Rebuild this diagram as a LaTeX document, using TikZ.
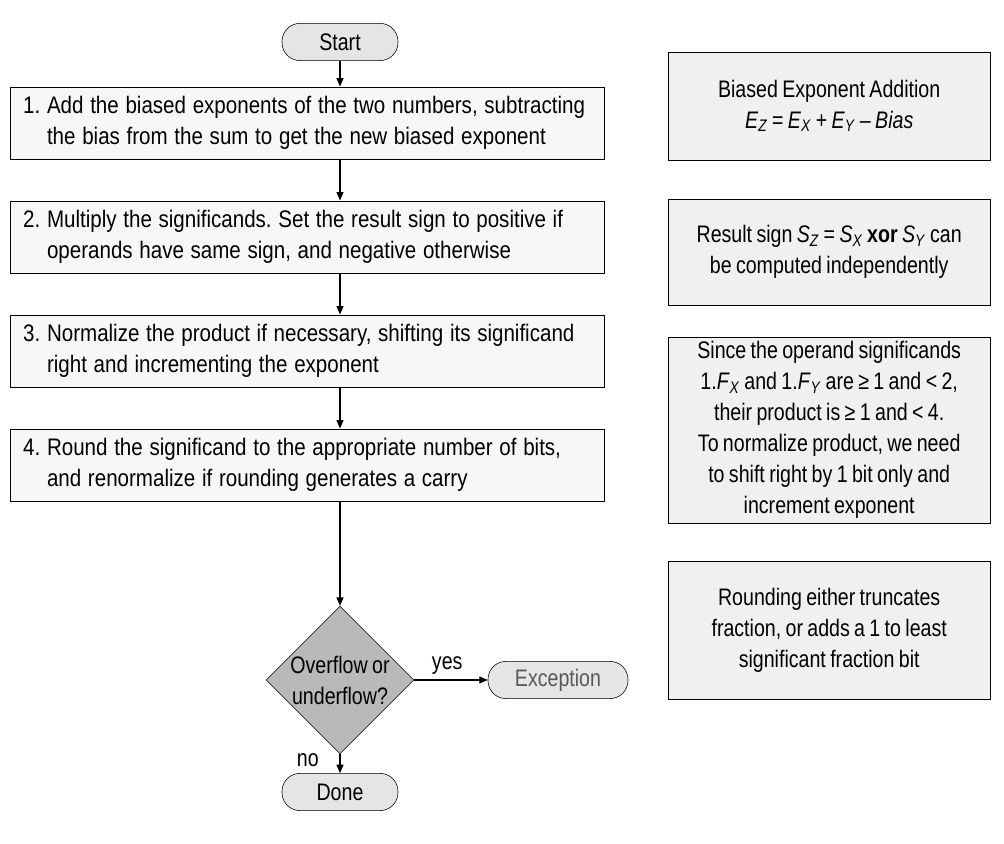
\documentclass[tikz,border=0pt]{standalone}
\usepackage{fontspec}
\setmainfont{Liberation Sans}[FakeStretch=0.82, WordSpace=0.8]
\newfontfamily\stepFont{Liberation Sans}[FakeStretch=0.86]
\usetikzlibrary{shapes.geometric,arrows.meta}
\frenchspacing
\newcommand\boxW{14.85}
\newcommand\sideW{8.05}
\tikzset{
  stepBox/.style={draw, fill=gray!6, minimum width=\boxW cm, minimum height=1.8cm, align=left, text width=14.2cm,
    font=\fontsize{17}{22}\stepFont, execute at begin node={\frenchspacing\spaceskip=0.28em plus 0.05em\relax}},
  sideBox/.style={draw, fill=gray!12, minimum width=\sideW cm, align=center},
  pillBox/.style={draw, fill=gray!20, rounded corners=0.45cm, minimum width=2.9cm, minimum height=0.93cm},
  flowArrow/.style={-{Triangle[length=6pt,width=5pt]}, thick}
}
\begin{document}
\begin{tikzpicture}[font=\fontsize{17}{22}\selectfont]
  \useasboundingbox (0,0) rectangle (25.1,21.1);
  % main flow
  \node[pillBox] (start) at (8.5,20.05) {Start};
  \node[stepBox] (stepA) at (7.68,18.03) {1.\ Add the biased exponents of the two numbers, subtracting\\ \phantom{1.\ }the bias from the sum to get the new biased exponent};
  \node[stepBox] (stepB) at (7.68,15.18) {2.\ Multiply the significands. Set the result sign to positive if\\ \phantom{2.\ }operands have same sign, and negative otherwise};
  \node[stepBox] (stepC) at (7.68,12.33) {3.\ Normalize the product if necessary, shifting its significand\\ \phantom{3.\ }right and incrementing the exponent};
  \node[stepBox] (stepD) at (7.68,9.48) {4.\ Round the significand to the appropriate number of bits,\\ \phantom{4.\ }and renormalize if rounding generates a carry};
  \node[diamond, draw, fill=gray!55, minimum width=3.6cm, minimum height=3.1cm, inner sep=0pt, align=center] (check) at (8.5,4.1) {Overflow or\\underflow?};
  \node[pillBox, minimum width=3.5cm, text=gray!70!black] (exc) at (13.95,4.1) {Exception};
  \node[pillBox] (done) at (8.5,1.3) {Done};

  \draw[flowArrow] (start) -- (start |- stepA.north);
  \draw[flowArrow] (start |- stepA.south) -- (start |- stepB.north);
  \draw[flowArrow] (start |- stepB.south) -- (start |- stepC.north);
  \draw[flowArrow] (start |- stepC.south) -- (start |- stepD.north);
  \draw[flowArrow] (start |- stepD.south) -- (check);
  \draw[flowArrow] (check) -- node[above, pos=0.45] {yes} (exc);
  \draw[flowArrow] (check) -- node[left, pos=0.3, xshift=-0.4cm] {no} (done);

  % side notes
  \node[sideBox, minimum height=2.7cm] (noteA) at (20.73,18.45) {Biased Exponent Addition\\ \textit{E}\textsubscript{\textit{Z}} = \textit{E}\textsubscript{\textit{X}} + \textit{E}\textsubscript{\textit{Y}} -- \textit{Bias}};
  \node[sideBox, minimum height=2.65cm] (noteB) at (20.73,14.8) {Result sign \textit{S}\textsubscript{\textit{Z}} = \textit{S}\textsubscript{\textit{X}} \textbf{xor} \textit{S}\textsubscript{\textit{Y}} can\\ be computed independently};
  \node[sideBox, minimum height=4.25cm] (noteC) at (20.73,10.35) {Since the operand significands\\ 1.\textit{F}\textsubscript{\textit{X}} and 1.\textit{F}\textsubscript{\textit{Y}} are \char"2265{} 1 and < 2,\\ their product is \char"2265{} 1 and < 4.\\ To normalize product, we need\\ to shift right by 1 bit only and\\ increment exponent};
  \node[sideBox, minimum height=3.45cm] (noteD) at (20.73,5.35) {Rounding either truncates\\ fraction, or adds a 1 to least\\ significant fraction bit};
\end{tikzpicture}
\end{document}
